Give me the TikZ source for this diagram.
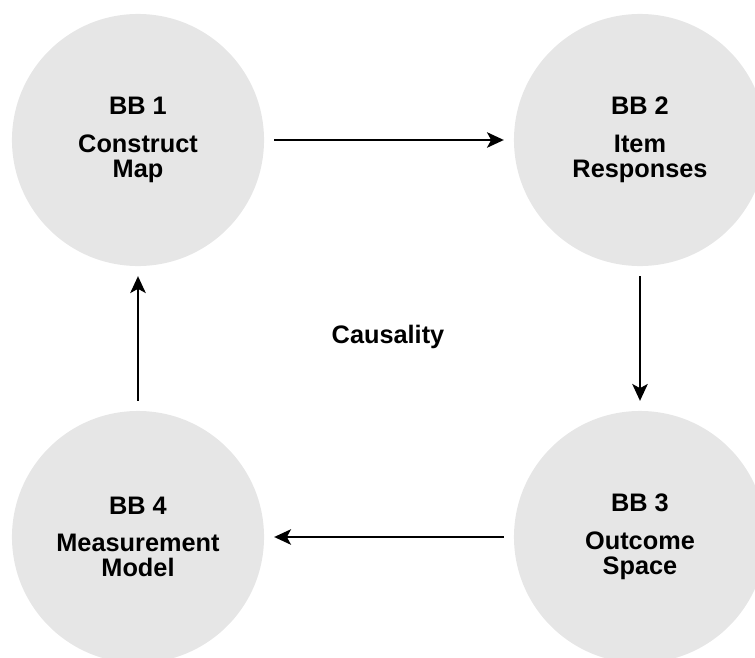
\documentclass[tikz,border=0pt]{standalone}
\usepackage{fontspec}
\setmainfont{Liberation Sans}
\usetikzlibrary{arrows.meta}
\definecolor{bubble}{HTML}{E6E6E6}

\tikzset{
  block/.style={circle, fill=bubble, minimum size=6.3cm, inner sep=0pt,
    align=center, font=\fontsize{18}{18}\selectfont\bfseries},
  flow/.style={-{Stealth[length=12pt,width=11pt,inset=3pt]}, line width=1.6pt,
    shorten <=7pt, shorten >=7pt}
}

\begin{document}
\begin{tikzpicture}[x=0.025cm, y=-0.025cm]
    \useasboundingbox (0,0) rectangle (755,657);
    \clip (0,0) rectangle (755,657);
    \node[block] (bb1) at (138,140) {BB 1\\[8.5pt]Construct\\Map};
    \node[block] (bb2) at (640,140) {BB 2\\[8.5pt]Item\\Responses};
    \node[block] (bb3) at (640,537) {BB 3\\[8.5pt]Outcome\\Space};
    \node[block] (bb4) at (138,537) {BB 4\\[8.5pt]Measurement\\Model};
    \node[font=\fontsize{18}{18}\selectfont\bfseries] (cause) at (388,337) {Causality};
    \draw[flow] (bb1) -- (bb2);
    \draw[flow] (bb2) -- (bb3);
    \draw[flow] (bb3) -- (bb4);
    \draw[flow] (bb4) -- (bb1);
  \end{tikzpicture}
\end{document}
